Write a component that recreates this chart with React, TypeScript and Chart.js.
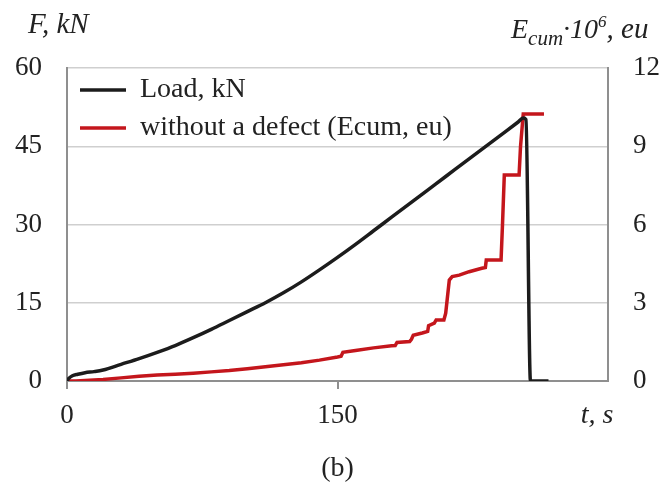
import React, { useEffect, useRef } from "react";
import { Chart, registerables } from "chart.js";

Chart.register(...registerables);

// Load curve (kN) vs time (s)
const loadTime = [0, 1, 3, 6, 10, 15, 20, 30, 40, 50, 60, 70, 80, 90, 100, 110, 120, 130, 140, 150, 160, 170, 180, 190, 200, 210, 220, 230, 240, 250, 253, 254.5, 257, 267];
const loadValues = [0, 0.5, 1.0, 1.3, 1.6, 1.8, 2.1, 3.2, 4.3, 5.5, 6.8, 8.3, 9.9, 11.6, 13.3, 15.0, 16.9, 19.0, 21.3, 23.7, 26.2, 28.8, 31.4, 34.0, 36.6, 39.2, 41.8, 44.4, 47.0, 49.6, 50.4, 50.1, 0, 0];

// Cumulative energy (Ecum·10^6, eu) vs time (s)
const ecumTime = [0, 5, 10, 20, 30, 40, 50, 60, 70, 80, 90, 100, 110, 120, 130, 140, 150, 152, 153, 160, 170, 180, 182, 183, 190, 191, 192, 197, 200, 200.5, 203.7, 204.7, 209, 210, 212, 213.6, 217.5, 223, 230, 232, 232.5, 240.7, 241.5, 242.5, 250.7, 251.5, 253, 264.5];
const ecumValues = [0, 0, 0.02, 0.06, 0.12, 0.18, 0.23, 0.26, 0.3, 0.35, 0.4, 0.47, 0.55, 0.62, 0.7, 0.8, 0.92, 0.95, 1.1, 1.17, 1.27, 1.35, 1.36, 1.48, 1.51, 1.6, 1.75, 1.84, 1.9, 2.12, 2.22, 2.34, 2.34, 2.6, 3.87, 4.0, 4.06, 4.19, 4.32, 4.35, 4.64, 4.64, 6.0, 7.9, 7.9, 9.0, 10.24, 10.24];

const seriesLabels = ["Load, kN", "without a defect (Ecum, eu)"];
const xTicks = [0, 150, 300];
const yLeftTicks = [0, 15, 30, 45, 60];
const yRightTicks = [0, 3, 6, 9, 12];

const FONT = '"Liberation Serif", "Times New Roman", serif';
const TEXT = "#222222";
const GRID = "#cfcfcf";
const AXIS = "#8f8f8f";

const legendInside = {
  id: "legendInside",
  afterLayout(chart: any) {
    const lg = chart.legend;
    const ca = chart.chartArea;
    if (!lg || !ca) return;
    const h = lg.height;
    lg.left = ca.left + 3;
    lg.right = ca.right;
    lg.top = ca.top - 2;
    lg.bottom = lg.top + h;
  },
};

const textPlugin = {
  id: "axisTexts",
  afterDraw(chart: any) {
    const { ctx } = chart;
    const xs = chart.scales.x;
    ctx.save();
    ctx.fillStyle = TEXT;
    ctx.textAlign = "left";
    ctx.textBaseline = "alphabetic";
    ctx.font = `italic 29px ${FONT}`;
    ctx.fillText("F, kN", 28, 33);

    let cx = 511;
    const base = 38;
    const part = (t: string, size: number, dy: number) => {
      ctx.font = `italic ${size}px ${FONT}`;
      ctx.fillText(t, cx, base + dy);
      cx += ctx.measureText(t).width;
    };
    part("E", 28, 0);
    part("cum", 21, 7);
    part("·10", 28, 0);
    part("6", 17, -11);
    part(", eu", 29, 0);

    ctx.font = `italic 28px ${FONT}`;
    ctx.textAlign = "center";
    ctx.textBaseline = "middle";
    ctx.fillText("t, s", xs.getPixelForValue(xTicks[2]) - 11, 416);
    ctx.restore();
  },
};

export default function App() {
  const ref = useRef<HTMLCanvasElement | null>(null);
  useEffect(() => {
    document.body.style.margin = "0";
    if (!ref.current) return;
    const chart = new Chart(ref.current, {
      type: "line",
      data: {
        datasets: [
          {
            label: seriesLabels[0],
            data: loadTime.map((t, i) => ({ x: t, y: loadValues[i] })),
            borderColor: "#1c1c1c",
            backgroundColor: "#1c1c1c",
            borderWidth: 3.5,
            pointRadius: 0,
            cubicInterpolationMode: "monotone",
            yAxisID: "y",
          },
          {
            label: seriesLabels[1],
            data: ecumTime.map((t, i) => ({ x: t, y: ecumValues[i] })),
            borderColor: "#c4161c",
            backgroundColor: "#c4161c",
            borderWidth: 3.5,
            pointRadius: 0,
            tension: 0,
            yAxisID: "y2",
          },
        ],
      },
      options: {
        animation: false,
        responsive: true,
        maintainAspectRatio: false,
        layout: { padding: { top: 68, left: 0, right: 0, bottom: 0 } },
        plugins: {
          tooltip: { enabled: false },
          legend: {
            position: "chartArea" as any,
            align: "start",
            labels: {
              usePointStyle: true,
              pointStyle: "line",
              pointStyleWidth: 46,
              boxHeight: 28,
              padding: 10,
              color: TEXT,
              font: { family: FONT, size: 28, lineHeight: 1.1 },
            },
          },
        },
        scales: {
          x: {
            type: "linear",
            min: xTicks[0],
            max: xTicks[2],
            afterBuildTicks: (s: any) => {
              s.ticks = xTicks.map((v) => ({ value: v }));
            },
            afterFit: (s: any) => {
              s.height = 104;
            },
            title: {
              display: true,
              text: "(b)",
              color: TEXT,
              font: { family: FONT, size: 28 },
              padding: { top: 0, bottom: 0 },
            },
            ticks: {
              padding: 11,
              color: TEXT,
              font: { family: FONT, size: 27 },
              callback: (v: any) => (v === xTicks[2] ? "" : String(v)),
            },
            grid: {
              drawOnChartArea: false,
              drawTicks: true,
              tickLength: 8,
              lineWidth: 2,
              color: (c: any) => (c.tick && c.tick.value === xTicks[2] ? "rgba(0,0,0,0)" : AXIS),
            },
            border: { display: true, color: AXIS, width: 2 },
          },
          y: {
            type: "linear",
            position: "left",
            min: yLeftTicks[0],
            max: yLeftTicks[4],
            afterBuildTicks: (s: any) => {
              s.ticks = yLeftTicks.map((v) => ({ value: v }));
            },
            afterFit: (s: any) => {
              s.width = 67;
            },
            ticks: { padding: 25, color: TEXT, font: { family: FONT, size: 27 } },
            grid: { drawTicks: false, color: GRID, lineWidth: 1.5 },
            border: { display: true, color: AXIS, width: 2 },
          },
          y2: {
            type: "linear",
            position: "right",
            min: yRightTicks[0],
            max: yRightTicks[4],
            afterBuildTicks: (s: any) => {
              s.ticks = yRightTicks.map((v) => ({ value: v }));
            },
            afterFit: (s: any) => {
              s.width = 63;
            },
            ticks: { padding: 25, color: TEXT, font: { family: FONT, size: 27 } },
            grid: { drawOnChartArea: false, drawTicks: false },
            border: { display: true, color: AXIS, width: 2 },
          },
        },
      },
      plugins: [legendInside, textPlugin],
    } as any);
    return () => chart.destroy();
  }, []);

  return (
    <div style={{ width: 671, height: 485, position: "relative" }}>
      <canvas ref={ref} />
    </div>
  );
}
